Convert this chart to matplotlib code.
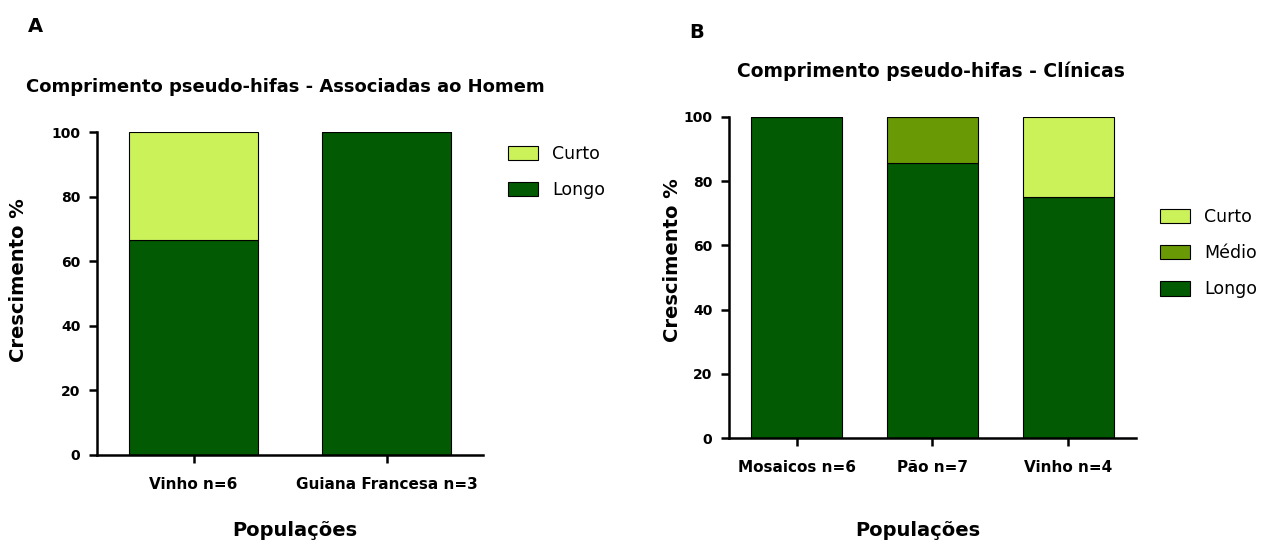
import numpy as np
import matplotlib
matplotlib.use("Agg")
import matplotlib.pyplot as plt
from matplotlib.patches import Patch

plt.rcParams.update({"font.family": ["DejaVu Sans"], "axes.linewidth": 1.8})

# dados (percentagem de crescimento)
A_GROUPS = ["Vinho n=6", "Guiana Francesa n=3"]
A_LONGO = [66.7, 100.0]
A_CURTO = [33.3, 0.0]

B_GROUPS = ["Mosaicos n=6", "Pão n=7", "Vinho n=4"]
B_LONGO = [100.0, 85.7, 75.0]
B_MEDIO = [0.0, 14.3, 0.0]
B_CURTO = [0.0, 0.0, 25.0]

C_CURTO, C_MEDIO, C_LONGO = "#ccf25a", "#699a06", "#025a02"
W, H = 1264, 549

fig = plt.figure(figsize=(W / 100, H / 100), dpi=100)


def px_axes(x0, x1, ytop, ybot):
    return fig.add_axes([x0 / W, 1 - ybot / H, (x1 - x0) / W, (ybot - ytop) / H])


def style(ax, groups):
    ax.set_xlim(-0.5, len(groups) - 0.5)
    ax.set_ylim(0, 100)
    ax.set_yticks(range(0, 101, 20))
    ax.set_xticks(range(len(groups)))
    ax.set_xticklabels(groups, fontsize=11, fontweight="bold")
    for t in ax.get_yticklabels():
        t.set_fontsize(10); t.set_fontweight("bold")
    ax.tick_params(width=1.8, length=6, pad=6)
    ax.tick_params(axis="x", pad=10)
    ax.spines["top"].set_visible(False)
    ax.spines["right"].set_visible(False)
    ax.set_ylabel("Crescimento %", fontsize=14, fontweight="bold")


def stack(ax, layers):
    x = np.arange(len(layers[0][0]))
    bottom = np.zeros(len(x))
    for vals, col in layers:
        vals = np.asarray(vals)
        ax.bar(x, vals, width=0.67, bottom=bottom, color=col,
               edgecolor="black", linewidth=0.8, zorder=2)
        bottom += vals


# (A) associadas ao homem
axA = px_axes(97, 483, 132, 455)
stack(axA, [(A_LONGO, C_LONGO), (A_CURTO, C_CURTO)])
style(axA, A_GROUPS)
axA.yaxis.set_label_coords(-0.18, 0.54)

# (B) clinicas
axB = px_axes(729, 1136, 117, 438)
stack(axB, [(B_LONGO, C_LONGO), (B_MEDIO, C_MEDIO), (B_CURTO, C_CURTO)])
style(axB, B_GROUPS)
axB.yaxis.set_label_coords(-0.115, 0.555)

fig.text(285 / W, 1 - 87 / H, "Comprimento pseudo-hifas - Associadas ao Homem",
         ha="center", va="center", fontsize=13, fontweight="bold")
fig.text(931 / W, 1 - 71 / H, "Comprimento pseudo-hifas - Clínicas",
         ha="center", va="center", fontsize=13.5, fontweight="bold")
fig.text(35 / W, 1 - 27 / H, "A", ha="center", va="center", fontsize=14, fontweight="bold")
fig.text(697 / W, 1 - 33 / H, "B", ha="center", va="center", fontsize=14, fontweight="bold")
fig.text(295 / W, 1 - 530 / H, "Populações", ha="center", va="center",
         fontsize=14, fontweight="bold")
fig.text(918 / W, 1 - 530 / H, "Populações", ha="center", va="center",
         fontsize=14, fontweight="bold")


def legend(labels, cols, x, y):
    hs = [Patch(facecolor=c, edgecolor="black", linewidth=0.8) for c in cols]
    fig.legend(handles=hs, labels=labels, loc="upper left",
               bbox_to_anchor=(x / W, 1 - y / H), frameon=False, fontsize=12.5,
               handlelength=1.75, handleheight=0.9, labelspacing=1.05,
               handletextpad=0.8, borderpad=0, borderaxespad=0)


legend(["Curto", "Longo"], [C_CURTO, C_LONGO], 508, 145)
legend(["Curto", "Médio", "Longo"], [C_CURTO, C_MEDIO, C_LONGO], 1160, 208)

fig.savefig("out.png", dpi=100, facecolor="white")
